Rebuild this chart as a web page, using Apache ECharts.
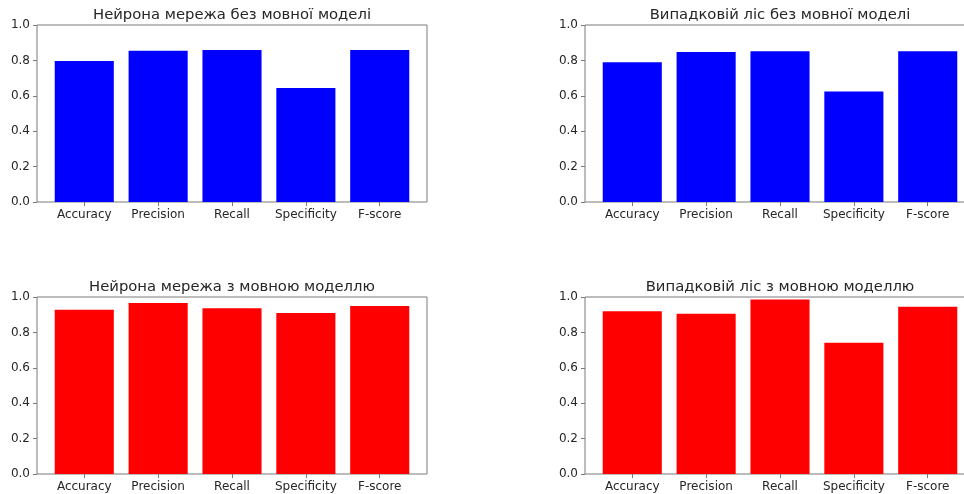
<!DOCTYPE html>
<html>
<head>
<meta charset="utf-8">
<style>
  html, body { margin: 0; padding: 0; background: #ffffff; }
  #chart { width: 964px; height: 494px; }
</style>
<script src="https://cdn.jsdelivr.net/npm/echarts@6/dist/echarts.min.js"></script>
</head>
<body>
<div id="chart"></div>
<script>
// Classification metrics for each model variant
const categories = ['Accuracy', 'Precision', 'Recall', 'Specificity', 'F-score'];
const nnWithoutLm = [0.797, 0.855, 0.859, 0.644, 0.859];
const rfWithoutLm = [0.789, 0.847, 0.851, 0.625, 0.851];
const nnWithLm = [0.928, 0.966, 0.936, 0.910, 0.949];
const rfWithLm = [0.919, 0.906, 0.986, 0.742, 0.945];

const panelTitles = [
  'Нейрона мережа без мовної моделі',
  'Випадковій ліс без мовної моделі',
  'Нейрона мережа з мовною моделлю',
  'Випадковій ліс з мовною моделлю'
];
const panelData = [nnWithoutLm, rfWithoutLm, nnWithLm, rfWithLm];
const panelColors = ['#0000ff', '#0000ff', '#ff0000', '#ff0000'];

// Panel layout (pixels)
const FONT = 'DejaVu Sans';
const PW = 390, PH = 177;
const lefts = [37, 585, 37, 585];
const tops = [25, 25, 297, 297];
// x range: bars of width 0.8 plus 5% margins on each side
const XMIN = -0.64, XMAX = categories.length - 1 + 0.64;
const barPx = 0.8 * PW / (XMAX - XMIN);
const catIndex = categories.map((c, k) => k);

const grid = [], xAxis = [], yAxis = [], series = [], title = [];
for (let i = 0; i < 4; i++) {
  grid.push({
    left: lefts[i], top: tops[i], width: PW, height: PH,
    containLabel: false, outerBoundsMode: 'none',
    show: true, borderColor: '#7a7a7a', borderWidth: 1, backgroundColor: 'transparent'
  });
  xAxis.push({
    type: 'value', gridIndex: i, min: XMIN, max: XMAX, position: 'bottom',
    splitLine: { show: false },
    axisLine: { show: false, onZero: false },
    axisTick: { show: true, length: 4, customValues: catIndex,
      lineStyle: { color: '#7a7a7a' } },
    axisLabel: { show: true, customValues: catIndex,
      formatter: v => categories[Math.round(v)] || '',
      fontFamily: FONT, fontSize: 12, color: '#262626', margin: 7 }
  });
  yAxis.push({
    type: 'value', gridIndex: i, min: 0, max: 1, interval: 0.2, position: 'left',
    splitLine: { show: false },
    axisLine: { show: false, onZero: false },
    axisTick: { show: true, length: 4, lineStyle: { color: '#7a7a7a' } },
    axisLabel: { fontFamily: FONT, fontSize: 12, color: '#262626', margin: 7,
      formatter: v => v.toFixed(1) }
  });
  series.push({
    type: 'bar', xAxisIndex: i, yAxisIndex: i,
    barWidth: barPx,
    itemStyle: { color: panelColors[i] },
    data: panelData[i].map((v, k) => [k, v])
  });
  title.push({
    text: panelTitles[i],
    left: lefts[i] + PW / 2, top: tops[i] - 17,
    textAlign: 'center', padding: 0,
    textStyle: { fontFamily: FONT, fontSize: 14.8, fontWeight: 'normal', color: '#262626' }
  });
}

const chart = echarts.init(document.getElementById('chart'), null, { renderer: 'canvas' });
chart.setOption({
  animation: false,
  backgroundColor: '#ffffff',
  title, grid, xAxis, yAxis, series
});
</script>
</body>
</html>
